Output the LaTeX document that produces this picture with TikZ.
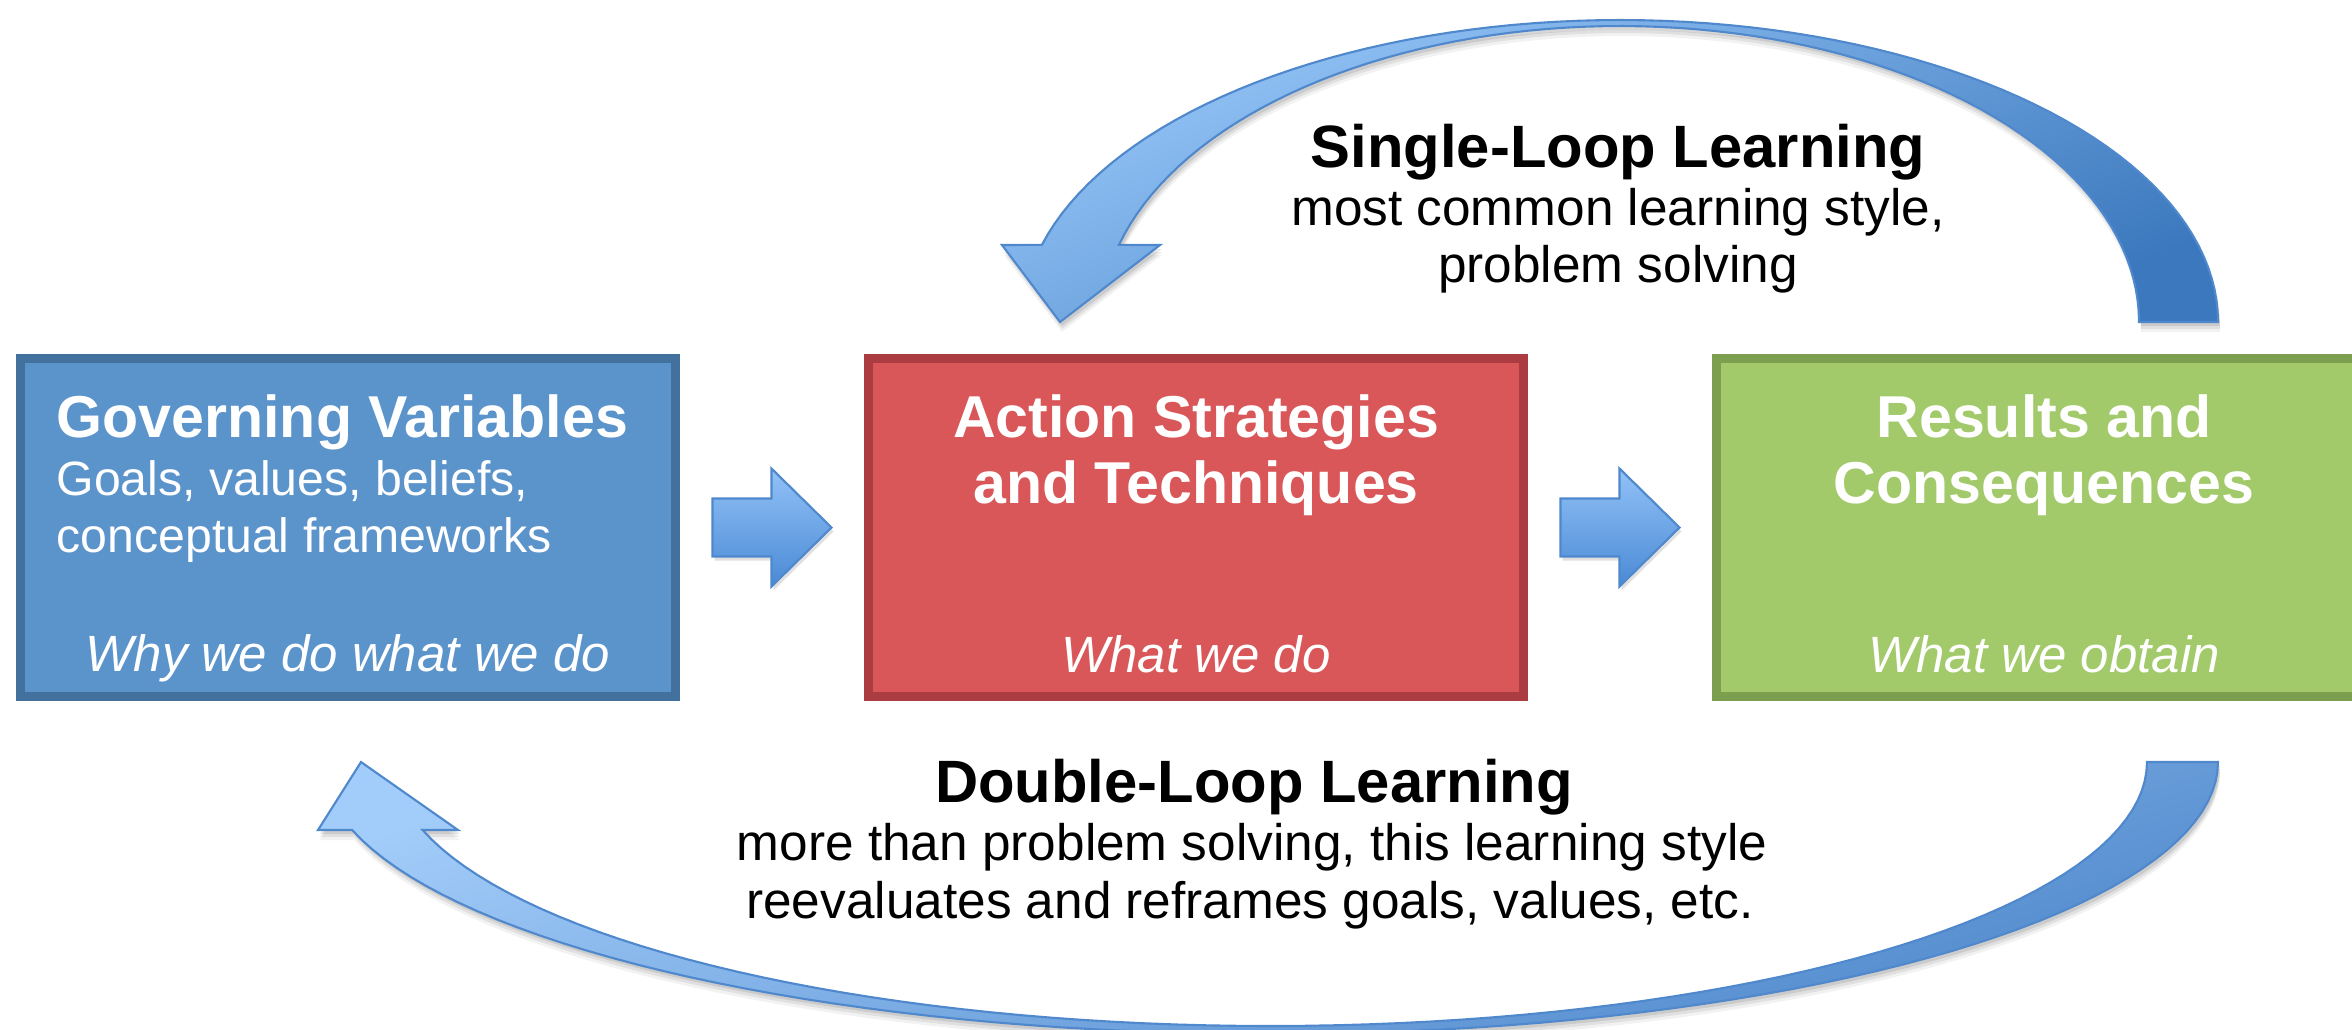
\documentclass[tikz,border=0pt]{standalone}
\usepackage{fontspec}
\setmainfont{Liberation Sans}
\usetikzlibrary{calc}
\definecolor{bluefill}{HTML}{5B93CB}
\definecolor{blueedge}{HTML}{43719E}
\definecolor{redfill}{HTML}{D95759}
\definecolor{rededge}{HTML}{AB3D42}
\definecolor{greenfill}{HTML}{A2CA6A}
\definecolor{greenedge}{HTML}{7C9E4F}
\definecolor{arrline}{HTML}{4F88CC}
\definecolor{arrlight}{HTML}{92C2F7}
\definecolor{arrdark}{HTML}{4A8AD5}
\definecolor{loopA}{HTML}{96C6F8}
\definecolor{loopB}{HTML}{3B78BD}
\definecolor{loopC}{HTML}{A2CCF9}
\definecolor{loopD}{HTML}{5089CC}
\newcommand{\toparcpath}{plot[domain=0:-165.2,samples=80,variable=\t] ({1620+598*cos(\t)},{322+302*sin(\t)}) -- (1002,245) -- (1060,322) -- (1160,245) -- plot[domain=-164.9:0,samples=80,variable=\t] ({1620+519*cos(\t)},{322+296*sin(\t)}) -- cycle}
\newcommand{\botarcpath}{plot[domain=0:165.52,samples=80,variable=\t] ({1270+948*cos(\t)},{762+272*sin(\t)}) -- (318,830) -- (361,762) -- (458,830) -- plot[domain=165.07:0,samples=80,variable=\t] ({1270+877*cos(\t)},{762+264*sin(\t)}) -- cycle}
\begin{document}
\begin{tikzpicture}[x=0.01cm,y=-0.01cm,
  box/.style={rectangle, minimum width=6.55cm, minimum height=3.38cm, line width=0.09cm, inner sep=0pt, outer sep=0pt},
  ttl/.style={text=white, font=\fontsize{16.8pt}{19pt}\selectfont\bfseries, inner sep=0pt},
  bod/.style={text=white, font=\fontsize{13.7pt}{16pt}\selectfont, inner sep=0pt},
  itl/.style={text=white, font=\fontsize{14.5pt}{17pt}\selectfont\itshape, inner sep=0pt},
  lttl/.style={text=black, font=\fontsize{17pt}{19pt}\selectfont\bfseries, inner sep=0pt},
  lbod/.style={text=black, font=\fontsize{14.6pt}{17pt}\selectfont, inner sep=0pt},
  barrow/.style={draw=arrline, line width=0.6pt, top color=arrlight, bottom color=arrdark},
  shadowfill/.style={fill=black, draw=none}
]
\useasboundingbox (0,0) rectangle (2352,1029);
\clip (0,0) rectangle (2352,1029);
\fill[white] (0,0) rectangle (2352,1029);

% shadows of loops
\foreach \s/\o in {10/0.05,7/0.07,4/0.09}{
  \fill[shadowfill, opacity=\o, shift={(2,\s)}] \toparcpath;
  \fill[shadowfill, opacity=\o, shift={(2,\s)}] \botarcpath;
}

% single loop arrow
\draw[line width=0.6pt, draw=arrline, top color=loopA, bottom color=loopB, shading angle=22] \toparcpath;
% double loop arrow
\draw[line width=0.6pt, draw=arrline, top color=loopC, bottom color=loopD, shading angle=18] \botarcpath;

% boxes
\node[box, fill=bluefill, draw=blueedge] (gv) at (348,527.5) {};
\node[box, fill=redfill, draw=rededge] (as) at (1196,527.5) {};
\node[box, fill=greenfill, draw=greenedge] (rc) at (2044,527.5) {};

% small arrows between boxes
\coordinate (m1) at ($(gv.east)!0.5!(as.west)$);
\coordinate (m2) at ($(as.east)!0.5!(rc.west)$);
\foreach \m in {m1,m2}{
  \fill[black, opacity=0.12] (\m) ++(-57.5,-25) -- ++(59,0) -- ++(0,-30) -- ++(60,59) -- ++(-60,59) -- ++(0,-30) -- ++(-59,0) -- cycle;
  \draw[barrow] (\m) ++(-59.5,-29) -- ++(59,0) -- ++(0,-30) -- ++(60,59) -- ++(-60,59) -- ++(0,-30) -- ++(-59,0) -- cycle;
}

% box texts
\node[ttl, anchor=base west] (gvt) at (56,437) {Governing Variables};
\node[bod, anchor=base west] (gvb1) at (56,495) {Goals, values, beliefs,};
\node[bod, anchor=base west] (gvb2) at (56,552) {conceptual frameworks};
\node[itl, anchor=base] (gvi) at (348,671) {Why we do what we do};

\node[ttl, anchor=base] (ast1) at (1196,437) {Action Strategies};
\node[ttl, anchor=base] (ast2) at (1196,503) {and Techniques};
\node[itl, anchor=base] (asi) at (1196,672) {What we do};

\node[ttl, anchor=base] (rct1) at (2044,437) {Results and};
\node[ttl, anchor=base] (rct2) at (2044,503) {Consequences};
\node[itl, anchor=base] (rci) at (2044,672) {What we obtain};

% loop labels
\node[lttl, anchor=base] (slt) at (1618,167) {Single-Loop Learning};
\node[lbod, anchor=base] (sl1) at (1618,225) {most common learning style,};
\node[lbod, anchor=base] (sl2) at (1618,282) {problem solving};

\node[lttl, anchor=base] (dlt) at (1254,802) {Double-Loop Learning};
\node[lbod, anchor=base] (dl1) at (1252,860) {more than problem solving, this learning style};
\node[lbod, anchor=base] (dl2) at (1250,918) {reevaluates and reframes goals, values, etc.};
\end{tikzpicture}
\end{document}
